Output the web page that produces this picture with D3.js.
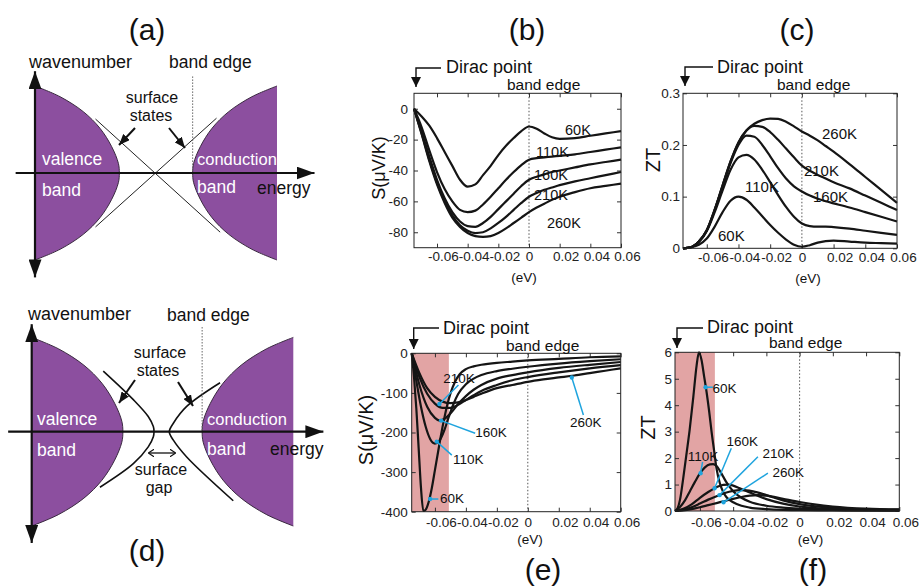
<!DOCTYPE html>
<html>
<head>
<meta charset="utf-8">
<script src="https://cdn.jsdelivr.net/npm/d3@7"></script>
<style>
body { margin: 0; background: #fff; }
svg text { font-family: "Liberation Sans", Arial, Helvetica, sans-serif; }
</style>
</head>
<body>
<svg id="fig" width="923" height="587"></svg>
<script>
// ---- data ----
const temps = ['60K', '110K', '160K', '210K', '260K'];
const xTicks = [-0.06, -0.04, -0.02, 0, 0.02, 0.04, 0.06];

// (b) Seebeck, gapless surface, same energy grid for (c)
const eGrid = [-0.075,-0.07,-0.065,-0.06,-0.055,-0.05,-0.045,-0.04,-0.035,-0.03,-0.025,-0.02,-0.015,-0.01,-0.005,0,0.005,0.01,0.015,0.02,0.03,0.04,0.05,0.06];
const sB60  = [0,-5,-11,-19,-28,-37,-46,-50.5,-49,-43,-37,-30,-24,-19,-14.5,-11.5,-13,-16,-18.5,-19.5,-19,-17.5,-16,-14.5];
const sB110 = [0,-12,-27,-41,-52,-60,-65.5,-67,-66,-62,-57,-51.5,-46,-41,-36.5,-33,-32,-31.5,-31,-30.5,-29.5,-28,-26.5,-25];
const sB160 = [0,-15,-31,-46,-58,-67,-73,-76,-76.5,-74,-70,-65,-60,-55,-50,-46,-44,-42.5,-41,-40,-38,-36,-34.5,-33];
const sB210 = [0,-16,-33,-48,-60,-69,-75.5,-79,-80.5,-80,-77.5,-74,-70,-65.5,-61,-57,-54.5,-52.5,-51,-49.5,-47,-45,-43,-41];
const sB260 = [0,-16.5,-34,-49,-61,-70.5,-76.5,-80.5,-82.5,-83,-82.5,-80.5,-77.5,-74,-70.5,-67,-64,-61.5,-59,-57,-54,-51.5,-50,-48.5];

// (c) ZT, gapless surface
const ztC60  = [0,0.002,0.007,0.019,0.042,0.07,0.092,0.1,0.094,0.079,0.062,0.045,0.03,0.017,0.007,0.003,0.006,0.011,0.014,0.015,0.013,0.011,0.01,0.009];
const ztC110 = [0,0.002,0.012,0.033,0.07,0.112,0.152,0.176,0.181,0.172,0.152,0.128,0.103,0.08,0.061,0.048,0.043,0.042,0.042,0.041,0.038,0.034,0.03,0.026];
const ztC160 = [0,0.002,0.013,0.035,0.074,0.12,0.165,0.2,0.218,0.216,0.2,0.178,0.155,0.135,0.12,0.11,0.102,0.096,0.091,0.087,0.079,0.07,0.061,0.052];
const ztC210 = [0,0.002,0.013,0.035,0.075,0.122,0.168,0.205,0.228,0.237,0.235,0.225,0.21,0.193,0.176,0.16,0.15,0.142,0.135,0.128,0.116,0.102,0.088,0.074];
const ztC260 = [0,0.002,0.013,0.035,0.075,0.122,0.168,0.205,0.228,0.241,0.248,0.251,0.2505,0.245,0.236,0.226,0.218,0.209,0.198,0.187,0.163,0.138,0.113,0.088];

// (e) Seebeck, gapped surface  [E, S]
const sE60  = [[-0.075,0],[-0.0735,-60],[-0.072,-140],[-0.0705,-240],[-0.069,-340],[-0.0675,-398],[-0.066,-395],[-0.064,-375],[-0.062,-340],[-0.06,-295],[-0.058,-250],[-0.056,-205],[-0.054,-165],[-0.052,-130],[-0.05,-102],[-0.047,-72],[-0.044,-53],[-0.04,-40],[-0.035,-33],[-0.03,-29],[-0.02,-24],[-0.01,-21],[0,-18],[0.02,-14],[0.04,-10],[0.06,-8]];
const sE110 = [[-0.075,0],[-0.072,-70],[-0.069,-135],[-0.066,-185],[-0.063,-217],[-0.06,-228],[-0.057,-220],[-0.054,-195],[-0.051,-160],[-0.048,-128],[-0.045,-103],[-0.04,-78],[-0.035,-64],[-0.03,-55],[-0.02,-45],[-0.01,-39],[0,-34],[0.02,-26],[0.04,-20],[0.06,-15]];
const sE160 = [[-0.075,0],[-0.07,-80],[-0.065,-135],[-0.06,-163],[-0.057,-170],[-0.054,-166],[-0.05,-152],[-0.045,-128],[-0.04,-108],[-0.035,-92],[-0.03,-80],[-0.02,-64],[-0.01,-55],[0,-48],[0.02,-37],[0.04,-29],[0.06,-22]];
const sE210 = [[-0.075,0],[-0.07,-60],[-0.065,-102],[-0.06,-127],[-0.055,-138],[-0.05,-138],[-0.045,-130],[-0.04,-118],[-0.035,-106],[-0.03,-95],[-0.02,-80],[-0.01,-68],[0,-60],[0.02,-48],[0.04,-38],[0.06,-30]];
const sE260 = [[-0.075,0],[-0.07,-50],[-0.065,-88],[-0.06,-110],[-0.055,-122],[-0.05,-126],[-0.045,-124],[-0.04,-118],[-0.035,-110],[-0.03,-102],[-0.02,-88],[-0.01,-80],[0,-72],[0.01,-66],[0.02,-61],[0.03,-56],[0.04,-50],[0.05,-44],[0.06,-38]];

// (f) ZT, gapped surface  [E, ZT]
const ztF60  = [[-0.075,0],[-0.0735,0.1],[-0.072,0.42],[-0.0702,1.17],[-0.068,2.2],[-0.0662,3.06],[-0.064,4.3],[-0.062,5.5],[-0.0606,6.0],[-0.059,5.7],[-0.0575,5.1],[-0.056,4.5],[-0.0545,3.8],[-0.053,3.0],[-0.0515,2.3],[-0.05,1.6],[-0.048,1.05],[-0.046,0.72],[-0.044,0.52],[-0.04,0.33],[-0.035,0.2],[-0.03,0.13],[-0.02,0.07],[-0.01,0.04],[0,0.03],[0.02,0.02],[0.04,0.01],[0.06,0.01]];
const ztF110 = [[-0.075,0],[-0.072,0.15],[-0.069,0.4],[-0.066,0.75],[-0.063,1.1],[-0.06,1.42],[-0.057,1.65],[-0.054,1.76],[-0.052,1.77],[-0.05,1.7],[-0.048,1.52],[-0.046,1.3],[-0.044,1.08],[-0.042,0.9],[-0.04,0.75],[-0.035,0.5],[-0.03,0.35],[-0.02,0.2],[-0.01,0.13],[0,0.09],[0.02,0.05],[0.04,0.03],[0.06,0.02]];
const ztF160 = [[-0.075,0],[-0.07,0.08],[-0.065,0.25],[-0.06,0.5],[-0.055,0.72],[-0.05,0.9],[-0.046,0.99],[-0.043,1.0],[-0.04,0.96],[-0.036,0.86],[-0.03,0.7],[-0.02,0.45],[-0.01,0.28],[0,0.17],[0.02,0.08],[0.04,0.05],[0.06,0.03]];
const ztF210 = [[-0.075,0],[-0.07,0.04],[-0.065,0.14],[-0.06,0.28],[-0.055,0.43],[-0.05,0.56],[-0.045,0.68],[-0.04,0.76],[-0.036,0.79],[-0.032,0.78],[-0.028,0.74],[-0.02,0.6],[-0.01,0.4],[0,0.26],[0.02,0.12],[0.04,0.07],[0.06,0.05]];
const ztF260 = [[-0.075,0],[-0.07,0.02],[-0.065,0.07],[-0.06,0.14],[-0.055,0.22],[-0.05,0.3],[-0.045,0.38],[-0.04,0.46],[-0.035,0.53],[-0.03,0.58],[-0.025,0.6],[-0.02,0.58],[-0.01,0.46],[0,0.34],[0.01,0.24],[0.02,0.17],[0.04,0.09],[0.06,0.06]];

// curve label anchors [text, E, value] and leader lines [E1, v1, E2, v2]
const labB = [['60K',0.0235,-17],['110K',0.0046,-31.5],['160K',0.0033,-46.2],['210K',0.0033,-59.1],['260K',0.0117,-77.3]];
const labC = [['60K',-0.0529,0.014],['110K',-0.0359,0.109],['160K',0.007,0.09],['210K',0.0013,0.14],['260K',0.0127,0.2115]];
const labE = [['60K',-0.0567,-378],['110K',-0.0483,-279.5],['160K',-0.034,-212.6],['210K',-0.0547,-75],['260K',0.0273,-186]];
const leadE = [[-0.0578,-368,-0.0631,-368],[-0.0491,-257,-0.0588,-223],[-0.034,-202,-0.056,-170],[-0.0448,-80,-0.0571,-128],[0.0359,-156,0.0284,-61]];
const labF = [['60K',-0.0524,4.46],['110K',-0.0674,1.89],['160K',-0.044,2.46],['210K',-0.0223,2.0],['260K',-0.0163,1.29]];
const leadF = [[-0.0522,4.68,-0.0566,4.68],[-0.0584,1.86,-0.0596,1.43],[-0.0411,2.37,-0.0512,0.86],[-0.0251,2.05,-0.0482,0.6],[-0.0191,1.43,-0.0458,0.33]];

// band schematic: band-edge outline [E, k] (valence; conduction is mirrored)
const bandE = [-1,-0.793,-0.601,-0.463,-0.366,-0.311,-0.303,-0.311,-0.366,-0.463,-0.601,-0.793,-1];
const bandK = [1,0.877,0.705,0.514,0.302,0.111,0,-0.111,-0.302,-0.514,-0.705,-0.877,-1];
const surfA = [[-0.5,0.62],[0.53,-0.68]];
const surfB = [[-0.5,-0.62],[0.5,0.63]];
const gapLeft  = [[-0.453,0.643],[-0.223,0.34],[-0.109,0.161],[-0.07,0.054],[-0.065,0],[-0.07,-0.054],[-0.109,-0.161],[-0.223,-0.339],[-0.478,-0.589]];
const gapRight = [[0.44,0.519],[0.185,0.268],[0.083,0.09],[0.052,0],[0.083,-0.09],[0.185,-0.268],[0.541,-0.732]];

const purple = '#8c4f9f';
const shade = '#e2a4a4';
const cyan = '#1fa4de';

const svg = d3.select('#fig');
const defs = svg.append('defs');
function marker(id, w, h, col, open) {
  defs.append('marker').attr('id', id)
    .attr('viewBox', '0 -5 10 10').attr('refX', open ? 9 : 10).attr('refY', 0)
    .attr('markerUnits', 'userSpaceOnUse')
    .attr('markerWidth', w).attr('markerHeight', h)
    .attr('preserveAspectRatio', 'none')
    .attr('orient', 'auto-start-reverse')
    .append('path')
    .attr('d', open ? 'M0,-5L10,0L0,5' : 'M0,-5L10,0L0,5Z')
    .attr('fill', open ? 'none' : col)
    .attr('stroke', open ? col : 'none')
    .attr('stroke-width', open ? 1.6 : 0);
}
marker('axArrow', 18, 13, '#111');
marker('ssArrow', 11, 9, '#111');
marker('dpArrow', 10, 10, '#111');
marker('gapArrow', 6, 8, '#111', true);

function txt(g, s, x, y, size, opts) {
  opts = opts || {};
  return g.append('text').attr('x', x).attr('y', y)
    .attr('font-size', size + 'px')
    .attr('fill', opts.fill || '#111')
    .attr('text-anchor', opts.anchor || 'start')
    .text(s);
}

// ---- band schematics (a), (d) ----
function bandPanel(o) {
  const x = d3.scaleLinear().domain([-1, 1]).range(o.xr);
  const y = d3.scaleLinear().domain([-1, 1]).range(o.yr);
  const g = svg.append('g');
  const straight = d3.line().x(d => x(d[0])).y(d => y(d[1]));
  const smooth = d3.line().x(d => x(d[0])).y(d => y(d[1])).curve(d3.curveCatmullRom.alpha(0.5));

  if (o.gap) {
    [gapLeft, gapRight].forEach(c => g.append('path').attr('d', smooth(c))
      .attr('fill', 'none').attr('stroke', '#111').attr('stroke-width', 1.6));
  } else {
    [surfA, surfB].forEach(c => g.append('path').attr('d', straight(c))
      .attr('fill', 'none').attr('stroke', '#222').attr('stroke-width', 1));
  }

  const valence = bandE.map((e, i) => [e, bandK[i]]);
  const conduction = bandE.map((e, i) => [-e, bandK[i]]);
  [valence, conduction].forEach(b => {
    g.append('path').attr('d', smooth(b) + 'Z').attr('fill', purple);
    g.append('path').attr('d', smooth(b)).attr('fill', 'none').attr('stroke', '#3a2a40').attr('stroke-width', 1);
  });

  // band edge (dotted)
  g.append('line').attr('x1', x(0.303)).attr('x2', x(0.303))
    .attr('y1', y(o.edgeTop)).attr('y2', y(0))
    .attr('stroke', '#666').attr('stroke-width', 1).attr('stroke-dasharray', '1.5,1.5');

  // axes with arrow heads
  g.append('line').attr('x1', x(o.eAxis[0])).attr('x2', x(o.eAxis[1]))
    .attr('y1', y(0)).attr('y2', y(0))
    .attr('stroke', '#111').attr('stroke-width', 2.2).attr('marker-end', 'url(#axArrow)');
  g.append('line').attr('x1', x(-1)).attr('x2', x(-1))
    .attr('y1', y(o.kAxis[0])).attr('y2', y(o.kAxis[1]))
    .attr('stroke', '#111').attr('stroke-width', 2.2)
    .attr('marker-start', 'url(#axArrow)').attr('marker-end', 'url(#axArrow)');

  // "surface states" pointers
  o.pointers.forEach(p => g.append('line')
    .attr('x1', p[0]).attr('y1', p[1]).attr('x2', p[2]).attr('y2', p[3])
    .attr('stroke', '#111').attr('stroke-width', 2).attr('marker-end', 'url(#ssArrow)'));

  if (o.gap) {
    g.append('line').attr('x1', o.gapArrow[0]).attr('x2', o.gapArrow[1])
      .attr('y1', o.gapArrow[2]).attr('y2', o.gapArrow[2])
      .attr('stroke', '#111').attr('stroke-width', 1.3)
      .attr('marker-start', 'url(#gapArrow)').attr('marker-end', 'url(#gapArrow)');
  }

  o.texts.forEach(t => txt(g, t[0], t[1], t[2], t[5] || 17.5, { fill: t[3], anchor: t[4] }));
}

bandPanel({
  xr: [35, 277], yr: [260, 86], gap: false,
  edgeTop: 1.11, eAxis: [-1.16, 1.31], kAxis: [1.17, -1.2],
  pointers: [[135, 128, 119, 145], [169, 128, 185, 148]],
  texts: [
    ['wavenumber', 29, 68, '#111', 'start', 18], ['band edge', 169, 68],
    ['surface', 152, 103, '#111', 'middle', 16], ['states', 151, 121, '#111', 'middle', 16],
    ['valence', 42, 165, '#fff'], ['band', 42, 196, '#fff'],
    ['conduction', 197, 165, '#fff', 'start', 16.5], ['band', 197, 193, '#fff'],
    ['energy', 257, 194]
  ]
});

bandPanel({
  xr: [31.7, 293.3], yr: [526, 337.4], gap: true,
  edgeTop: 1.11, eAxis: [-1.18, 1.23], kAxis: [1.14, -1.18],
  pointers: [[135, 380, 119, 403], [178, 382, 193, 406]],
  gapArrow: [149, 175, 453],
  texts: [
    ['wavenumber', 28, 320, '#111', 'start', 18], ['band edge', 167, 321],
    ['surface', 160, 358, '#111', 'middle', 16], ['states', 158, 376, '#111', 'middle', 16],
    ['valence', 37, 425, '#fff'], ['band', 37, 456, '#fff'],
    ['conduction', 207, 425, '#fff', 'start', 16.5], ['band', 207, 455, '#fff'],
    ['energy', 270, 455],
    ['surface', 161, 475, '#111', 'middle', 16], ['gap', 159, 493, '#111', 'middle', 16]
  ]
});

// ---- line plots (b), (c), (e), (f) ----
function fmtX(d) { return d === 0 ? '0' : (d < 0 ? '-' : '') + Math.abs(d).toFixed(2); }

function plotPanel(o) {
  const x = d3.scaleLinear().domain([-0.075, 0.06]).range([o.left, o.right]);
  const y = d3.scaleLinear().domain(o.yDomain).range([o.bottom, o.top]);
  const g = svg.append('g');

  if (o.shadeTo !== undefined) {
    g.append('rect').attr('x', x(-0.075)).attr('y', o.top)
      .attr('width', x(o.shadeTo) - x(-0.075)).attr('height', o.bottom - o.top)
      .attr('fill', shade);
  }
  g.append('line').attr('x1', x(0)).attr('x2', x(0)).attr('y1', o.top).attr('y2', o.bottom)
    .attr('stroke', '#555').attr('stroke-width', 1).attr('stroke-dasharray', '1.5,2');

  const styleAxis = a => {
    a.select('.domain').remove();
    a.selectAll('line').attr('stroke', '#333');
    a.selectAll('text').style('font-size', '13.5px').attr('fill', '#222');
  };
  g.append('g').attr('transform', `translate(0,${o.bottom})`)
    .call(d3.axisBottom(x).tickValues(xTicks).tickSize(-4).tickPadding(o.xPad).tickFormat(fmtX))
    .call(styleAxis)
    .call(a => a.selectAll('text').attr('dx', d => d === 0 ? 0 : 6));
  g.append('g').attr('transform', `translate(0,${o.top})`)
    .call(d3.axisTop(x).tickValues(xTicks).tickSize(-4).tickFormat(''))
    .call(styleAxis);
  g.append('g').attr('transform', `translate(${o.left},0)`)
    .call(d3.axisLeft(y).tickValues(o.yTicks).tickSize(-4).tickPadding(o.yPad).tickFormat(d => String(d)))
    .call(styleAxis);
  g.append('g').attr('transform', `translate(${o.right},0)`)
    .call(d3.axisRight(y).tickValues(o.yTicks).tickSize(-4).tickFormat(''))
    .call(styleAxis);

  const line = d3.line().x(d => x(d[0])).y(d => y(d[1])).curve(d3.curveMonotoneX);
  o.series.forEach(s => g.append('path').attr('d', line(s))
    .attr('fill', 'none').attr('stroke', '#151515').attr('stroke-width', 2.2)
    .attr('stroke-linejoin', 'round'));

  g.append('rect').attr('x', o.left).attr('y', o.top)
    .attr('width', o.right - o.left).attr('height', o.bottom - o.top)
    .attr('fill', 'none').attr('stroke', '#222').attr('stroke-width', 1);

  if (o.leaders) {
    o.leaders.forEach(l => {
      g.append('line').attr('x1', x(l[0])).attr('y1', y(l[1])).attr('x2', x(l[2])).attr('y2', y(l[3]))
        .attr('stroke', cyan).attr('stroke-width', 1.5);
      g.append('circle').attr('cx', x(l[2])).attr('cy', y(l[3])).attr('r', 2.2).attr('fill', cyan);
    });
  }
  o.labels.forEach(l => txt(g, l[0], x(l[1]), y(l[2]), o.labSize));

  // Dirac point / band edge annotations
  const d = o.dirac;
  txt(g, 'Dirac point', d.tx, d.ty, 18);
  g.append('path').attr('d', `M${d.lx},${d.ly}H${o.left + 2}V${d.tip}`)
    .attr('fill', 'none').attr('stroke', '#111').attr('stroke-width', 1.4)
    .attr('marker-end', 'url(#dpArrow)');
  txt(g, 'band edge', d.bx, d.by, 15.5);

  // axis titles
  g.append('text').attr('transform', `translate(${o.yt[0]},${o.yt[1]}) rotate(-90)`)
    .attr('text-anchor', 'middle').attr('dominant-baseline', 'central')
    .attr('font-size', o.yt[2] + 'px').attr('fill', '#111').text(o.yTitle);
  txt(g, '(eV)', o.xt[0], o.xt[1], 13.5, { anchor: 'middle' });
}

const zip = (xs, ys) => xs.map((e, i) => [e, ys[i]]);

plotPanel({
  left: 414, right: 621, top: 93.3, bottom: 247.7,
  yDomain: [-90, 10], yTicks: [0, -20, -40, -60, -80], xPad: 4, yPad: 6,
  series: [sB60, sB110, sB160, sB210, sB260].map(s => zip(eGrid, s)),
  labels: labB, labSize: 14.5,
  dirac: { tx: 446, ty: 72.5, lx: 441, ly: 68, tip: 87, bx: 507, by: 90 },
  yTitle: 'S(μV/K)', yt: [379, 168, 18], xt: [524, 281.5]
});

plotPanel({
  left: 683, right: 897, top: 93.3, bottom: 248.3,
  yDomain: [0, 0.3], yTicks: [0, 0.1, 0.2, 0.3], xPad: 4, yPad: 3,
  series: [ztC60, ztC110, ztC160, ztC210, ztC260].map(s => zip(eGrid, s)),
  labels: labC, labSize: 15,
  dirac: { tx: 717, ty: 73, lx: 713, ly: 67, tip: 86, bx: 777, by: 90 },
  yTitle: 'ZT', yt: [652.5, 160, 20], xt: [808, 283]
});

plotPanel({
  left: 411.7, right: 620.7, top: 353.3, bottom: 511.7, shadeTo: -0.051,
  yDomain: [-400, 0], yTicks: [0, -100, -200, -300, -400], xPad: 6, yPad: 4,
  series: [sE60, sE110, sE160, sE210, sE260],
  labels: labE, labSize: 13.5, leaders: leadE,
  dirac: { tx: 443, ty: 334, lx: 439, ly: 328, tip: 349, bx: 506, by: 351 },
  yTitle: 'S(μV/K)', yt: [366, 430, 20], xt: [530, 544]
});

plotPanel({
  left: 675, right: 899.3, top: 352.3, bottom: 511, shadeTo: -0.051,
  yDomain: [0, 6], yTicks: [0, 1, 2, 3, 4, 5, 6], xPad: 6, yPad: 3,
  series: [ztF60, ztF110, ztF160, ztF210, ztF260],
  labels: labF, labSize: 13.5, leaders: leadF,
  dirac: { tx: 707, ty: 333, lx: 703, ly: 328, tip: 348, bx: 769, by: 348 },
  yTitle: 'ZT', yt: [648, 427.5, 20], xt: [810.5, 544]
});

// panel letters
[['(a)', 147, 40], ['(b)', 527, 40], ['(c)', 797, 40],
 ['(d)', 147, 561], ['(e)', 543, 580], ['(f)', 813, 580]]
  .forEach(p => txt(svg, p[0], p[1], p[2], 30, { anchor: 'middle' }));
</script>
</body>
</html>
